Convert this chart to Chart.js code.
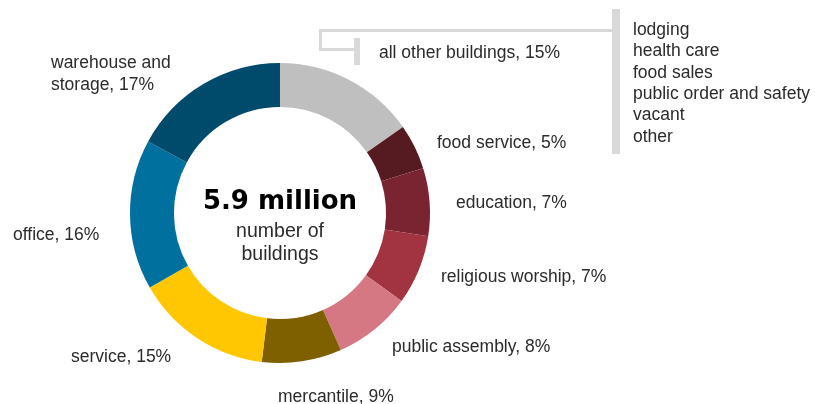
<!DOCTYPE html>
<html><head><meta charset="utf-8">
<script src="https://cdn.jsdelivr.net/npm/chart.js@4"></script>
<style>html,body{margin:0;padding:0;background:#fff;}canvas{display:block;}</style>
</head><body>
<canvas id="c" width="815" height="404"></canvas>
<script>
const categories = ["all other buildings", "food service", "education", "religious worship", "public assembly", "mercantile", "service", "office", "warehouse and storage"];
const shares = [15.3, 4.9, 7.3, 7.5, 8.4, 8.6, 14.8, 16.2, 17.1];
const shareLabels = ["15%", "5%", "7%", "7%", "8%", "9%", "15%", "16%", "17%"];
const otherTypes = ["lodging", "health care", "food sales", "public order and safety", "vacant", "other"];
const centerTitle = "5.9 million";
const centerSub = ["number of", "buildings"];
const colors = ["#bfbfbf", "#561b21", "#7b2431", "#a23340", "#d57883", "#7f6000", "#fec701", "#00709e", "#004a6b"];

const FONT = '"Liberation Sans", Arial, sans-serif';
const TXT = '#2b2b2b';

const labelPos = [[379,53],[437,143],[456,203],[441,277],[392,347],[278,397],[71,357],[13,235],[51,63]];

const annot = {
  id: 'annot',
  afterDraw(chart) {
    const ctx = chart.ctx;
    const meta = chart.getDatasetMeta(0);
    const arc = meta.data[0];
    const cx = arc.x, cy = arc.y;
    ctx.save();
    ctx.textAlign = 'center';
    ctx.textBaseline = 'middle';
    ctx.fillStyle = '#000';
    ctx.font = 'bold 26px "DejaVu Sans", sans-serif';
    ctx.fillText(centerTitle, cx, cy - 11);
    ctx.fillStyle = TXT;
    ctx.font = '19.5px ' + FONT;
    ctx.fillText(centerSub[0], cx, cy + 19);
    ctx.fillText(centerSub[1], cx, cy + 42);
    ctx.textAlign = 'left';
    ctx.font = '17.5px ' + FONT;
    categories.forEach((c, i) => {
      const [x, y] = labelPos[i];
      if (c === "warehouse and storage") {
        ctx.fillText("warehouse and", x, y);
        ctx.fillText("storage, " + shareLabels[i], x, y + 22);
      } else {
        ctx.fillText(c + ", " + shareLabels[i], x, y);
      }
    });
    otherTypes.forEach((t, i) => ctx.fillText(t, 633, 30 + i * 21.4));
    ctx.fillStyle = '#d9d9d9';
    ctx.fillRect(612, 9, 8, 145);
    ctx.fillRect(319, 29, 295, 3);
    ctx.fillRect(319, 29, 3, 22);
    ctx.fillRect(319, 48, 38, 3);
    ctx.fillRect(354, 38, 6, 27);
    ctx.restore();
  }
};

new Chart(document.getElementById('c'), {
  type: 'doughnut',
  data: {
    labels: categories,
    datasets: [{ data: shares, backgroundColor: colors, borderWidth: 0 }]
  },
  options: {
    responsive: false,
    animation: false,
    cutout: '70.7%',
    layout: { padding: { left: 130, right: 385, top: 63, bottom: 41 } },
    plugins: { legend: { display: false }, tooltip: { enabled: false } }
  },
  plugins: [annot]
});
</script>
</body></html>
